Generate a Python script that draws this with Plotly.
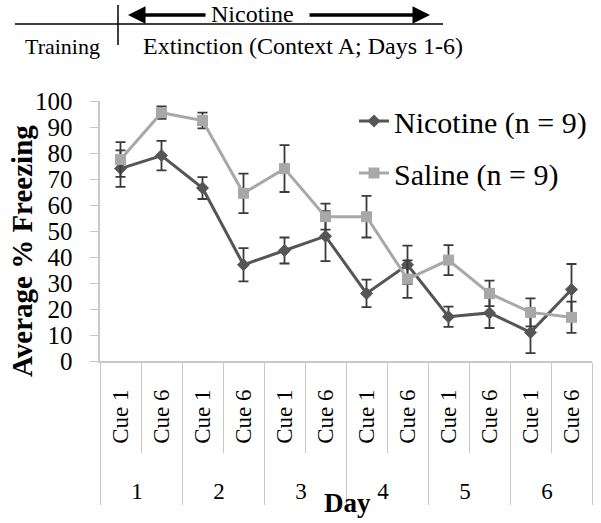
import plotly.graph_objects as go

days = ["1", "1", "2", "2", "3", "3", "4", "4", "5", "5", "6", "6"]
cues = ["Cue 1", "Cue 6"] * 6
nicotine = [74, 79, 66.5, 37, 42.5, 48, 26, 37, 17, 18.5, 11, 27.5]
nicotine_err = [7, 5.7, 4.2, 6.4, 5, 9.6, 5.3, 7.4, 3.9, 5.8, 8, 9.8]
saline = [77.5, 95.5, 92.5, 64.5, 74, 55.5, 55.5, 31.5, 38.8, 26, 18.7, 16.8]
saline_err = [6.7, 2.4, 3, 7.6, 9, 5, 8, 7.2, 5.8, 4.9, 5.4, 6]
y_ticks = list(range(0, 101, 10))

SERIF = "Liberation Serif, Times New Roman, serif"
NB = "\u00a0"

W, H = 601, 523
L, T = 100, 101
R, B = 601 - 592, 523 - 361
pw, ph = W - L - R, H - T - B


def px_x(p):
    return (p - L) / pw


def px_y(p):
    return (H - B - p) / ph


# pad the rotated cue labels so they sit like the original layout
cue_labels = [NB * 2 + c + NB * 3 for c in cues]

fig = go.Figure()
fig.add_trace(go.Scatter(
    x=[days, cue_labels], y=nicotine, name="Nicotine (n = 9)", mode="lines+markers",
    line=dict(color="#555555", width=3),
    marker=dict(symbol="diamond", size=10, color="#555555"),
    error_y=dict(type="data", array=nicotine_err, color="#3a3a3a", thickness=1.8, width=5),
    legendgroup="a", cliponaxis=False,
))
fig.add_trace(go.Scatter(
    x=[days, cue_labels], y=saline, name="Saline (n = 9)", mode="lines+markers",
    line=dict(color="#a8a8a8", width=3),
    marker=dict(symbol="square", size=11, color="#a8a8a8"),
    error_y=dict(type="data", array=saline_err, color="#3a3a3a", thickness=1.8, width=5),
    legendgroup="b", cliponaxis=False,
))


def txt(text, x, y, size, angle=0):
    return dict(text=text, x=px_x(x), y=px_y(y), xref="paper", yref="paper",
                xanchor="center", yanchor="middle", showarrow=False, textangle=angle,
                font=dict(family=SERIF, size=size, color="black"))


annotations = [
    txt("Nicotine", 252, 14, 24),
    txt("Training", 62, 46, 22),
    txt("Extinction (Context A; Days 1-6)", 303, 46, 24),
    dict(text="", x=px_x(128), y=px_y(15), xref="paper", yref="paper",
         showarrow=True, ax=79, ay=0, arrowhead=2, arrowsize=1, arrowwidth=3.5,
         arrowcolor="black"),
    dict(text="", x=px_x(430), y=px_y(15), xref="paper", yref="paper",
         showarrow=True, ax=-122, ay=0, arrowhead=2, arrowsize=1, arrowwidth=3.5,
         arrowcolor="black"),
    txt("<b>Day</b>", 347, 503, 27),
    txt("<b>Average % Freezing</b>", 22, 251, 29, angle=-90),
]

shapes = [
    dict(type="line", xref="paper", yref="paper", x0=px_x(15), x1=px_x(443),
         y0=px_y(24), y1=px_y(24), line=dict(color="black", width=1.5)),
    dict(type="line", xref="paper", yref="paper", x0=px_x(118), x1=px_x(118),
         y0=px_y(5), y1=px_y(45), line=dict(color="black", width=1.5)),
]

fig.update_layout(
    width=W, height=H,
    margin=dict(l=L, r=R, t=T, b=B, autoexpand=False),
    paper_bgcolor="white", plot_bgcolor="white",
    font=dict(family=SERIF, color="black"),
    showlegend=True,
    legend=dict(x=px_x(354), y=px_y(95), xanchor="left", yanchor="top",
                font=dict(family=SERIF, size=30, color="black"),
                tracegroupgap=10, bgcolor="rgba(0,0,0,0)"),
    annotations=annotations,
    shapes=shapes,
    xaxis=dict(
        type="multicategory", automargin=False, range=[-0.5, len(days) - 0.5],
        autorange=False, showline=True, linecolor="#c8c8c8",
        linewidth=2, ticks="outside", ticklen=90, tickcolor="#c8c8c8", tickwidth=1,
        tickangle=-90, tickfont=dict(family=SERIF, size=23, color="black"),
        showdividers=True, dividercolor="#c8c8c8", dividerwidth=1,
        showgrid=False,
    ),
    yaxis=dict(
        automargin=False, range=[0, 100], tickvals=y_ticks,
        ticktext=[str(v) + NB * 2 for v in y_ticks], showline=True,
        linecolor="#c8c8c8", linewidth=2, ticks="outside", ticklen=8,
        tickcolor="#c8c8c8", tickfont=dict(family=SERIF, size=25, color="black"),
        showgrid=False, zeroline=False,
    ),
)

fig.write_html(
    "out.html",
    config={"displayModeBar": False},
    post_script="document.body.style.margin='0';document.body.style.overflow='hidden';",
)
